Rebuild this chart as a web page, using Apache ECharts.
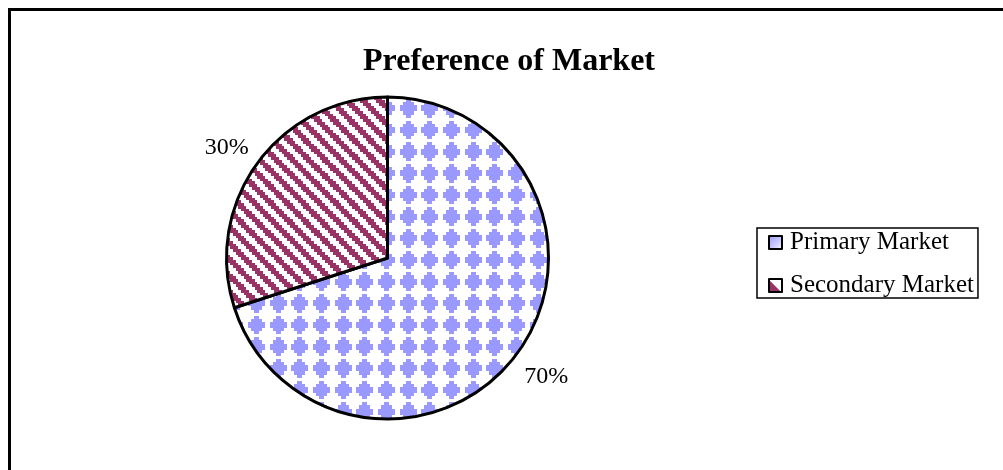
<!DOCTYPE html>
<html>
<head>
<meta charset="utf-8">
<style>
  html, body { margin: 0; padding: 0; background: #fff; }
  #chart { width: 1003px; height: 470px; }
</style>
<script src="https://cdn.jsdelivr.net/npm/echarts@6/dist/echarts.min.js"></script>
</head>
<body>
<div id="chart"></div>
<script>
// Survey result: which market respondents prefer
const titleText = 'Preference of Market';
const categories = ['Primary Market', 'Secondary Market'];
const shares = [70, 30];

const SERIF = "'Times New Roman', 'Liberation Serif', serif";
const LAVENDER = '#9999FF';
const MAROON = '#993366';

const TILE = 65;

// Stepped diamonds on a 21.67 px grid
function diamondTile() {
  const c = document.createElement('canvas');
  c.width = TILE; c.height = TILE;
  const g = c.getContext('2d');
  g.fillStyle = '#fff';
  g.fillRect(0, 0, TILE, TILE);
  g.fillStyle = LAVENDER;
  const rowWidths = [5, 11, 17, 17, 11, 5];
  const rowH = 3.1;
  const step = TILE / 3;
  for (let i = 0; i < 3; i++) {
    for (let j = 0; j < 3; j++) {
      const cx = 18.33 + i * step;
      const cy = 0 + j * step;
      for (let ox = -TILE; ox <= TILE; ox += TILE) {
        for (let oy = -TILE; oy <= TILE; oy += TILE) {
          rowWidths.forEach((w, r) => {
            const y0 = Math.round(cy + oy + (r - 3) * rowH);
            const y1 = Math.round(cy + oy + (r - 2) * rowH);
            const x0 = Math.round(cx + ox - w / 2);
            const x1 = Math.round(cx + ox + w / 2);
            g.fillRect(x0, y0, x1 - x0, y1 - y0);
          });
        }
      }
    }
  }
  return c;
}

// Stepped downward diagonal stripes, 16.25 px period
function stripeTile() {
  const c = document.createElement('canvas');
  c.width = TILE; c.height = TILE;
  const g = c.getContext('2d');
  g.fillStyle = '#fff';
  g.fillRect(0, 0, TILE, TILE);
  g.fillStyle = MAROON;
  const n = 24, cell = TILE / n, period = 6, band = 3;
  for (let r = 0; r < n; r++) {
    for (let col = 0; col < n; col++) {
      const m = ((col - r) % period + period) % period;
      if (m < band) {
        const x0 = Math.round(col * cell), x1 = Math.round((col + 1) * cell);
        const y0 = Math.round(r * cell), y1 = Math.round((r + 1) * cell);
        g.fillRect(x0, y0, x1 - x0, y1 - y0);
      }
    }
  }
  return c;
}

const fills = [
  { image: diamondTile(), repeat: 'repeat' },
  { image: stripeTile(), repeat: 'repeat' }
];

// Small swatches used in the legend
const swatches = [
  { type: 'linear', x: 0, y: 0, x2: 1, y2: 1,
    colorStops: [{ offset: 0, color: LAVENDER }, { offset: 0.55, color: '#C8C8FF' }, { offset: 1, color: '#ffffff' }] },
  { type: 'linear', x: 0, y: 1, x2: 1, y2: 0,
    colorStops: [{ offset: 0, color: MAROON }, { offset: 0.45, color: MAROON }, { offset: 0.5, color: '#ffffff' }, { offset: 1, color: '#ffffff' }] }
];

const chart = echarts.init(document.getElementById('chart'), null, { renderer: 'canvas' });

chart.setOption({
  backgroundColor: '#ffffff',
  animation: false,
  title: {
    text: titleText,
    left: 363,
    top: 46,
    padding: 0,
    textStyle: { fontFamily: SERIF, fontSize: 32, fontWeight: 'bold', color: '#000' }
  },
  legend: {
    orient: 'vertical',
    left: 757,
    top: 228,
    padding: [2, 4, 0, 11],
    itemGap: 18,
    itemWidth: 13,
    itemHeight: 13,
    itemStyle: { borderColor: '#000', borderWidth: 2 },
    backgroundColor: '#fff',
    borderColor: '#000',
    borderWidth: 1.5,
    borderRadius: 0,
    icon: 'rect',
    textStyle: { fontFamily: SERIF, fontSize: 25, color: '#000', padding: [0, 0, 0, 3] },
    data: categories.map((name, i) => ({
      name,
      icon: 'rect',
      itemStyle: { color: swatches[i], borderColor: '#000', borderWidth: 2 }
    }))
  },
  graphic: [{
    type: 'rect',
    shape: { x: 9.5, y: 9.5, width: 1200, height: 700 },
    style: { fill: 'none', stroke: '#000', lineWidth: 3 },
    silent: true
  }],
  series: [{
    type: 'pie',
    center: [387.5, 258],
    radius: 161,
    startAngle: 90,
    clockwise: true,
    avoidLabelOverlap: false,
    itemStyle: { borderColor: '#000', borderWidth: 3 },
    label: {
      show: true,
      position: 'outside',
      formatter: '{d}%',
      fontFamily: SERIF,
      fontSize: 24,
      color: '#000',
      distanceToLabelLine: -20
    },
    labelLine: { show: false, length: 34, length2: 0 },
    labelLayout: { dx: -1, dy: 4 },
    emphasis: { disabled: true },
    data: categories.map((name, i) => ({
      name,
      value: shares[i],
      itemStyle: { color: fills[i] }
    }))
  }]
});
</script>
</body>
</html>
